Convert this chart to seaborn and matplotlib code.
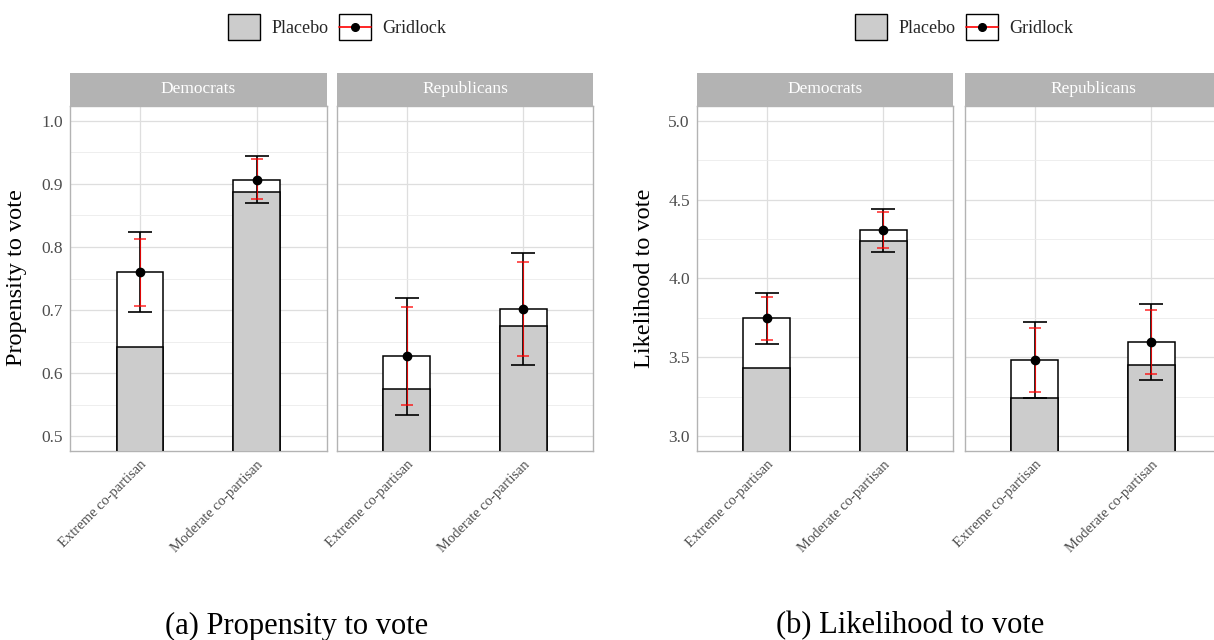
import numpy as np
import pandas as pd
import matplotlib
matplotlib.use('Agg')
import matplotlib.pyplot as plt
import seaborn as sns
from matplotlib.patches import Patch, Rectangle
from matplotlib.lines import Line2D
from matplotlib.legend_handler import HandlerTuple, HandlerLine2D
from matplotlib.ticker import MultipleLocator, FormatStrFormatter

sns.set_theme(style='white')
plt.rcParams['font.family'] = ['Liberation Serif', 'DejaVu Serif']

# Data (order: Dem-Extreme, Dem-Moderate, Rep-Extreme, Rep-Moderate)
parties = ['Democrats', 'Democrats', 'Republicans', 'Republicans']
conditions = ['Extreme co-partisan', 'Moderate co-partisan',
              'Extreme co-partisan', 'Moderate co-partisan']
cond_order = ['Extreme co-partisan', 'Moderate co-partisan']

prop_placebo = [0.642, 0.887, 0.574, 0.675]
prop_gridlock = [0.760, 0.907, 0.627, 0.701]
prop_ci95_lo = [0.697, 0.870, 0.534, 0.613]
prop_ci95_hi = [0.823, 0.945, 0.719, 0.791]
prop_ci90_lo = [0.707, 0.876, 0.549, 0.627]
prop_ci90_hi = [0.813, 0.939, 0.705, 0.776]

like_placebo = [3.435, 4.241, 3.241, 3.454]
like_gridlock = [3.747, 4.308, 3.483, 3.597]
like_ci95_lo = [3.584, 4.171, 3.243, 3.356]
like_ci95_hi = [3.907, 4.443, 3.723, 3.837]
like_ci90_lo = [3.612, 4.194, 3.278, 3.394]
like_ci90_hi = [3.882, 4.424, 3.684, 3.797]

GREY70 = '#B3B3B3'
GRID = '#DEDEDE'
TXT = '#4D4D4D'

W, H = 1214, 640
fig = plt.figure(figsize=(W / 100, H / 100), dpi=100)


class CenteredLine(HandlerLine2D):
    # keep the key line in the middle of the key box
    def create_artists(self, legend, orig_handle, xdescent, ydescent,
                       width, height, fontsize, trans):
        artists = super().create_artists(legend, orig_handle, xdescent, ydescent,
                                         width, height, fontsize, trans)
        for a in artists:
            yd = np.asarray(a.get_ydata())
            a.set_ydata(np.full_like(yd, height / 2 - ydescent, dtype=float))
        return artists


def make_df(placebo, gridlock, lo95, hi95, lo90, hi90):
    return pd.DataFrame({'party': parties, 'condition': conditions,
                         'placebo': placebo, 'gridlock': gridlock,
                         'lo95': lo95, 'hi95': hi95, 'lo90': lo90, 'hi90': hi90})


def px_axes(x0, x1, ytop, ybot):
    return fig.add_axes([x0 / W, 1 - ybot / H, (x1 - x0) / W, (ybot - ytop) / H])


def draw_panel(ax, sub, ylim, major, minor, first):
    sns.barplot(data=sub, x='condition', y='gridlock', order=cond_order, width=0.4,
                color='white', saturation=1, edgecolor='black', linewidth=1.1,
                errorbar=None, ax=ax, zorder=2)
    sns.barplot(data=sub, x='condition', y='placebo', order=cond_order, width=0.4,
                color='#CCCCCC', saturation=1, edgecolor='black', linewidth=1.1,
                errorbar=None, ax=ax, zorder=3)
    xs = np.arange(len(sub))
    g = sub['gridlock'].values
    ax.errorbar(xs, g, yerr=[g - sub['lo95'].values, sub['hi95'].values - g],
                fmt='none', ecolor='black', elinewidth=1.2, capsize=8.5, capthick=1.2,
                zorder=4)
    ax.errorbar(xs, g, yerr=[g - sub['lo90'].values, sub['hi90'].values - g],
                fmt='none', ecolor='red', elinewidth=0.8, capsize=4.2, capthick=1.1,
                alpha=0.85, zorder=5)
    ax.plot(xs, g, 'o', color='black', ms=6, zorder=6)

    ax.set_xlim(-0.6, 1.6)
    ax.set_ylim(*ylim)
    ax.yaxis.set_major_locator(MultipleLocator(major))
    ax.yaxis.set_minor_locator(MultipleLocator(minor))
    ax.yaxis.set_major_formatter(FormatStrFormatter('%.1f'))
    ax.set_axisbelow(True)
    ax.grid(which='major', color=GRID, lw=0.9)
    ax.grid(which='minor', axis='y', color='#EBEBEB', lw=0.6)
    for s in ax.spines.values():
        s.set_color(GREY70)
        s.set_linewidth(1.0)
    ax.tick_params(which='minor', length=0)
    ax.tick_params(which='major', length=3, color=GREY70, width=0.8,
                   labelcolor=TXT, labelsize=12.5, pad=2)
    ax.set_xticks(range(len(cond_order)))
    ax.set_xticklabels(cond_order, rotation=45, ha='right', rotation_mode='anchor',
                       fontsize=10.5, color=TXT)
    ax.set_xlabel('')
    ax.set_ylabel('')
    if not first:
        ax.tick_params(axis='y', left=False, labelleft=False)


def draw_strip(x0, x1, label):
    sax = px_axes(x0, x1, 73.3, 106)
    sax.set_axis_off()
    sax.add_patch(Rectangle((0, 0), 1, 1, transform=sax.transAxes,
                            facecolor=GREY70, edgecolor='none'))
    sax.text(0.5, 0.52, label, ha='center', va='center', color='white', fontsize=12.5)


charts = [
    (make_df(prop_placebo, prop_gridlock, prop_ci95_lo, prop_ci95_hi,
             prop_ci90_lo, prop_ci90_hi),
     [(70, 326.7), (336.7, 593.4)], (0.4763, 1.0237), 0.1, 0.05,
     'Propensity to vote', 17, '(a) Propensity to vote', 297, 337),
    (make_df(like_placebo, like_gridlock, like_ci95_lo, like_ci95_hi,
             like_ci90_lo, like_ci90_hi),
     [(696.7, 953.4), (964.7, 1221.4)], (2.905, 5.095), 0.5, 0.25,
     'Likelihood to vote', 645, '(b) Likelihood to vote', 910, 964),
]

for df, spans, ylim, major, minor, ylabel, ylab_x, caption, cap_x, leg_x in charts:
    for i, party in enumerate(['Democrats', 'Republicans']):
        x0, x1 = spans[i]
        ax = px_axes(x0, x1, 106, 451)
        sub = df[df['party'] == party].reset_index(drop=True)
        draw_panel(ax, sub, ylim, major, minor, first=(i == 0))
        draw_strip(x0, x1, party)
    fig.text(ylab_x / W, 1 - 278 / H, ylabel, rotation=90, ha='center', va='center',
             fontsize=17.5, color='black')
    fig.text(cap_x / W, 1 - 626 / H, caption, ha='center', va='center',
             fontsize=22, color='black')

    handles = [Patch(facecolor='#CCCCCC', edgecolor='black', linewidth=1),
               (Patch(facecolor='white', edgecolor='black', linewidth=1),
                Line2D([], [], color='red', lw=1.2, marker='o', ms=5.5,
                       mfc='black', mec='black'))]
    fig.legend(handles, ['Placebo', 'Gridlock'], loc='center',
               bbox_to_anchor=(leg_x / W, 1 - 27 / H), ncol=2, frameon=False,
               fontsize=13, handlelength=1.8, handleheight=1.8,
               handletextpad=0.6, columnspacing=0.6,
               handler_map={tuple: HandlerTuple(ndivide=1, pad=0),
                            Line2D: CenteredLine()})

fig.savefig('out.png', dpi=100)
